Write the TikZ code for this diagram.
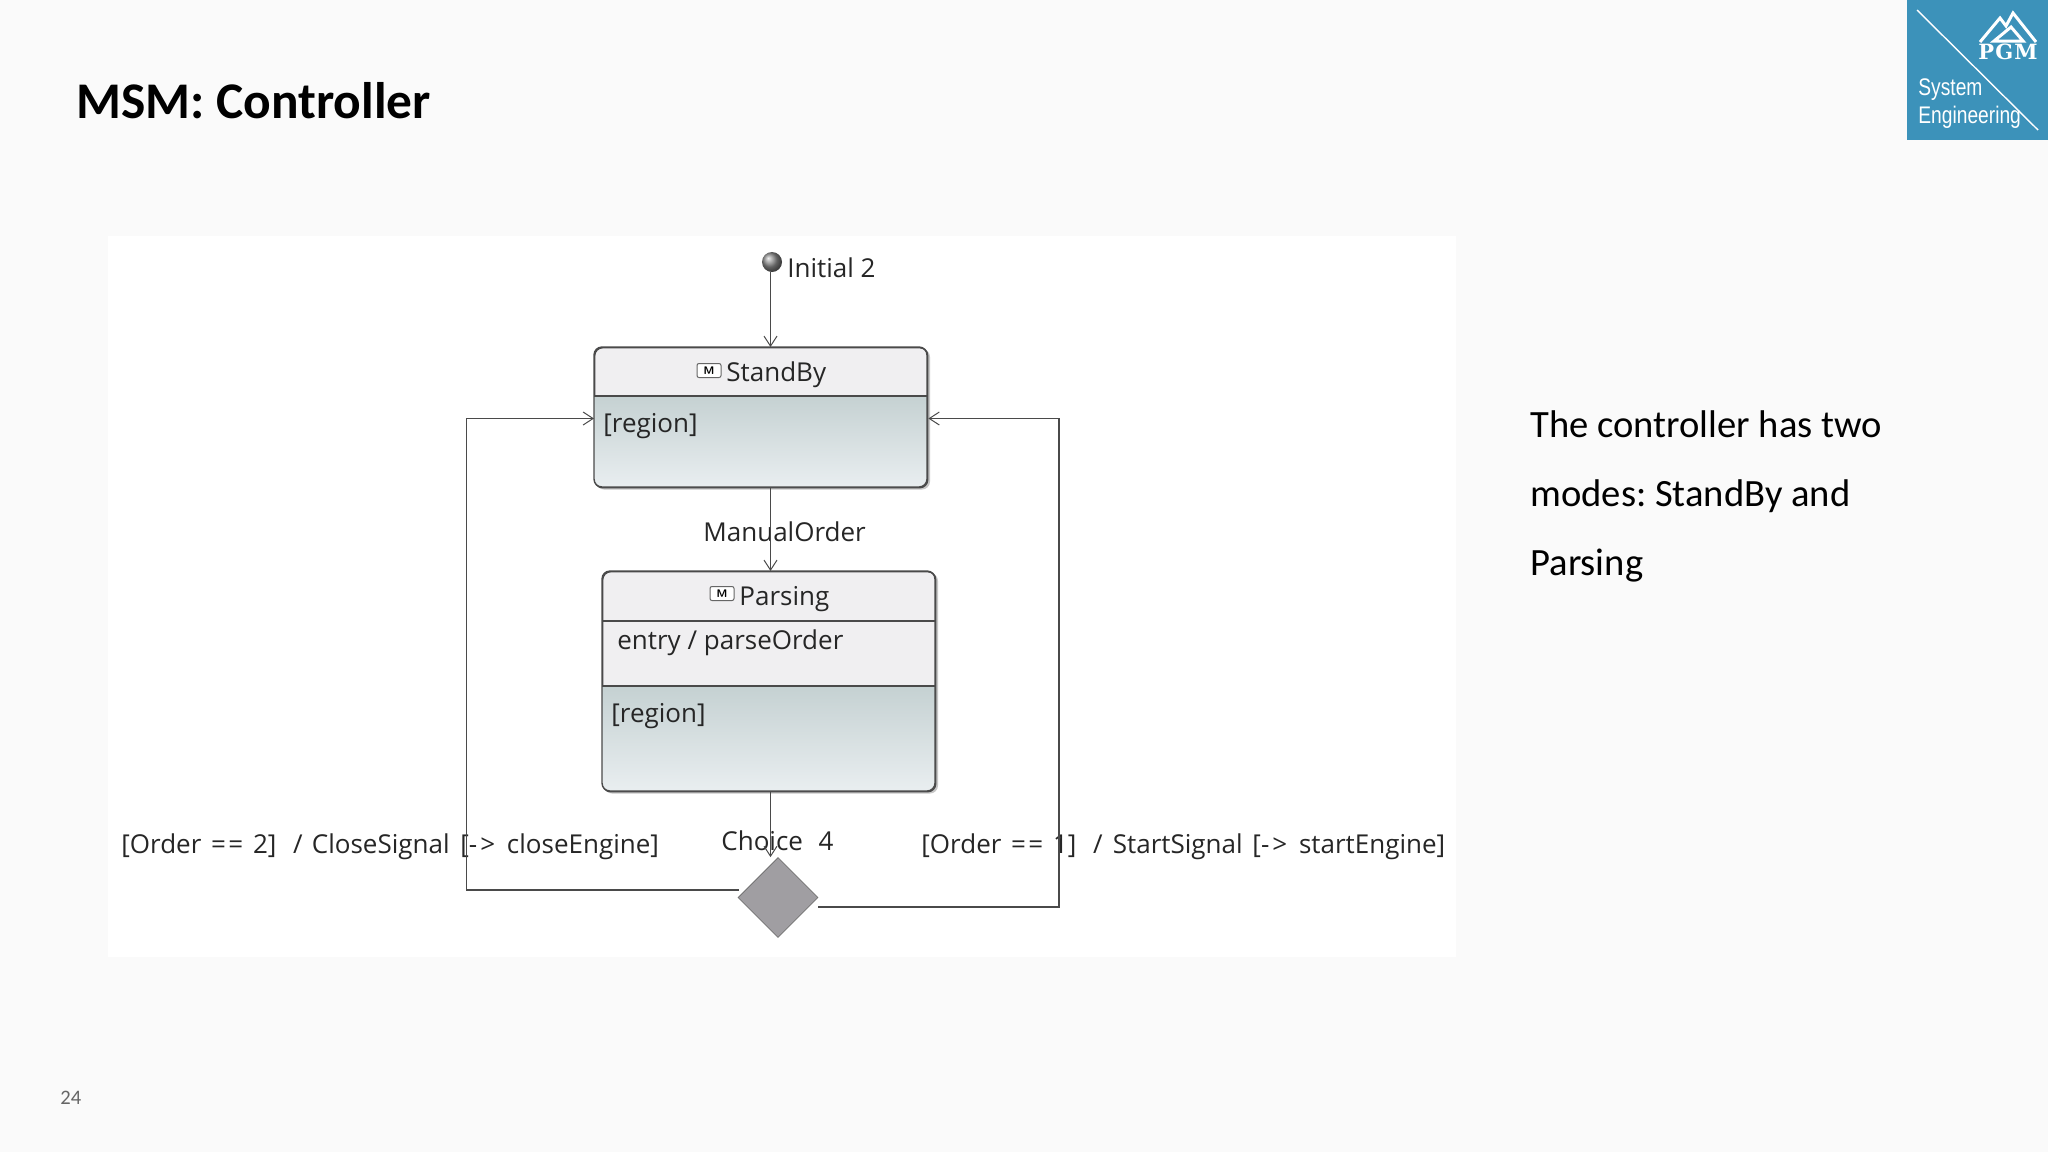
\documentclass[tikz,border=0pt]{standalone}
\usepackage{fontspec}
\setmainfont{Carlito}
\newfontfamily\umlfont{Open Sans}
\newfontfamily\logofont[FakeStretch=0.8]{Liberation Sans}
\newfontfamily\pgmfont{DejaVu Serif}
\usetikzlibrary{arrows.meta,shapes.geometric}
\definecolor{pagebg}{HTML}{FAFAFA}
\definecolor{wire}{HTML}{4A4A4A}
\definecolor{statehead}{HTML}{F0EFF1}
\definecolor{regiontop}{HTML}{C5D1D2}
\definecolor{regionbot}{HTML}{E9EEF0}
\definecolor{logoblue}{HTML}{3C92BA}
\definecolor{diamondgray}{HTML}{A09EA2}
\tikzset{
  umltext/.style={anchor=base west,inner sep=0pt,font=\umlfont\fontsize{13}{16}\selectfont,text=black!85},
  statebox/.style={draw=wire,line width=0.7pt,rounded corners=4pt,fill=statehead,inner sep=0pt,minimum width=166.5pt},
  conn/.style={draw=wire,line width=0.6pt},
  arr/.style={conn,-{Straight Barb[length=5pt,width=6.5pt,line width=0.5pt]}},
  regionfill/.style={top color=regiontop,bottom color=regionbot,draw=none},
  divider/.style={draw=wire,line width=0.6pt},
  softshadow/.style={fill=black!22,draw=none,rounded corners=4pt},
  mbadge/.style={draw=black!60,line width=0.5pt,rounded corners=1pt,fill=white,inner sep=0pt,minimum width=12pt,minimum height=7pt,font=\sffamily\bfseries\fontsize{5.5}{5.5}\selectfont},
  bodytext/.style={anchor=base west,inner sep=0pt,font=\frenchspacing\fontsize{19.3}{23}\selectfont,text=black},
  logotext/.style={anchor=base west,inner sep=0pt,font=\logofont\fontsize{12}{14}\selectfont,text=white},
}
\newcommand{\eqeq}{\kern1.5pt=\kern1.2pt=\kern1.5pt}
\begin{document}
\begin{tikzpicture}[x=0.5pt,y=-0.5pt]
\useasboundingbox (0,0) rectangle (2048,1152);
\fill[pagebg] (0,0) rectangle (2048,1152);
% title, number
\node[anchor=base west,inner sep=0pt,font=\bfseries\fontsize{25.7}{30}\selectfont] (title) at (76,118) {MSM: Controller};
\node[anchor=base west,inner sep=0pt,font=\fontsize{10.3}{12}\selectfont,text=black!60] (pageno) at (60,1104) {24};
% logo
\fill[logoblue] (1907,0) rectangle (2048,140);
\draw[white,line width=0.7pt] (1917,10) -- (2038,130);
\draw[white,line width=1.5pt,line join=miter] (1980,42) -- (2000,18) -- (2006,26) -- (2013,13) -- (2036,42);
\draw[white,line width=1.5pt] (1994,41) -- (2011,27) -- (2023,41) -- cycle;
\node[inner sep=0pt,font=\pgmfont\bfseries\fontsize{10.5}{12}\selectfont,text=white] (pgm) at (2008,52) {P\kern0.6pt G\kern0.6pt M};
\node[logotext] (sys) at (1918,95.5) {System};
\node[logotext] (eng) at (1918,123.5) {Engineering};
% panel
\fill[white] (108,236) rectangle (1456,957);
% body text
\node[bodytext] (b1) at (1530,437) {The controller has two};
\node[bodytext] (b2) at (1530,506) {modes: StandBy and};
\node[bodytext] (b3) at (1530,575) {Parsing};
% state boxes
\fill[softshadow] (596,349) rectangle (930,489.5);
\node[statebox,minimum height=70pt,anchor=north west] (standby) at (594,347) {};
\fill[regionfill,rounded corners=4pt] (594,396) [sharp corners] -- (927,396) [rounded corners=4pt] -- (927,487) -- (594,487) [sharp corners] -- cycle;
\draw[wire,line width=0.7pt,rounded corners=4pt] (594,347) rectangle (927,487);
\draw[divider] (594,396) -- (927,396);
\fill[softshadow] (604,573) rectangle (938,793.5);
\node[statebox,minimum height=110pt,anchor=north west] (parsing) at (602,571) {};
\fill[regionfill,rounded corners=4pt] (602,686) [sharp corners] -- (935,686) [rounded corners=4pt] -- (935,791) -- (602,791) [sharp corners] -- cycle;
\draw[wire,line width=0.7pt,rounded corners=4pt] (602,571) rectangle (935,791);
\draw[divider] (602,621) -- (935,621);
\draw[divider] (602,686) -- (935,686);
% labels in states
\node[mbadge] (m1) at (709,370.5) {M};
\node[umltext] (sbt) at (726,381) {StandBy};
\node[umltext] (r1) at (603,432) {[region]};
\node[mbadge] (m2) at (722,593.5) {M};
\node[umltext] (pt) at (739,605) {Parsing};
\node[umltext] (en) at (617,649) {entry / parseOrder};
\node[umltext] (r2) at (611,722) {[region]};
% initial
\node[circle,inner sep=0pt,minimum size=10pt,shading=ball,ball color=black!45] (init) at (772,262) {};
\node[umltext] (il) at (787,277) {Initial 2};
% choice
\node[diamond,aspect=1,draw=black!55,line width=0.4pt,fill=diamondgray,inner sep=0pt,minimum width=40pt,minimum height=40pt] (choice) at (778,897.5) {};
% transition labels
\node[umltext] (mo) at (703,541) {ManualOrder};
\node[umltext] (ch) at (721,850) {Choice\ \ \kern1pt 4};
\node[umltext] (ol) at (121,853) {[Order \eqeq\ 2]\ \ \kern1.5pt/ \kern1.3pt CloseSignal \kern2pt[-\kern1.5pt> \kern2.5pt closeEngine]};
\node[umltext] (or) at (921,853) {[Order \eqeq\ 1]\ \ \kern1.5pt/ \kern1.8pt StartSignal \kern1.5pt[-\kern1.5pt> \kern2.5pt startEngine]};
% connectors
\coordinate (xa) at (770.5,0);
\coordinate (lout) at (739,890);
\coordinate (rout) at (818,907);
\coordinate (lcor) at (466.5,890);
\coordinate (rcor) at (1059,907);
\coordinate (lin) at (466.5,418.5);
\coordinate (rin) at (1059,418.5);
\draw[arr] (init.south -| xa) -- (xa |- standby.north);
\draw[arr] (xa |- standby.south) -- (xa |- parsing.north);
\draw[arr] (xa |- parsing.south) -- (xa |- choice.north);
\draw[arr] (lout) -- (lcor) -- (lin) -- (lin -| standby.west);
\draw[arr] (rout) -- (rcor) -- (rin) -- (rin -| standby.east);
\end{tikzpicture}
\end{document}
